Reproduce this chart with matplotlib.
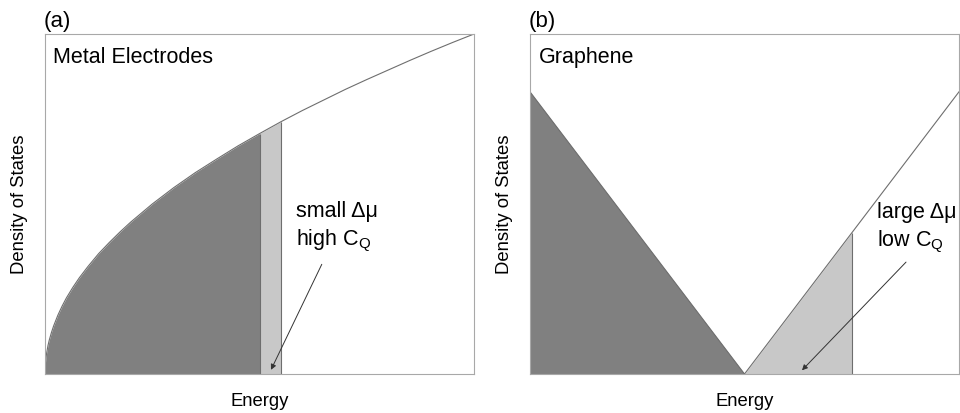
import numpy as np
import matplotlib
matplotlib.use('Agg')
import matplotlib.pyplot as plt

plt.rcParams['font.family'] = ['Liberation Sans', 'DejaVu Sans']
plt.rcParams['mathtext.fontset'] = 'custom'
plt.rcParams['mathtext.rm'] = 'Liberation Sans'
plt.rcParams['mathtext.it'] = 'Liberation Sans'

# metal: density of states vs energy
metal_energy = [0, 0.0005, 0.001, 0.002, 0.004, 0.007, 0.01, 0.015, 0.02, 0.03, 0.04, 0.05,
                0.065, 0.08, 0.1, 0.125, 0.15, 0.175, 0.2, 0.25, 0.3, 0.35, 0.4, 0.45,
                0.5, 0.55, 0.6, 0.65, 0.7, 0.75, 0.8, 0.85, 0.9, 0.95, 1.0]
metal_dos = [0, 0.022, 0.032, 0.045, 0.063, 0.084, 0.1, 0.122, 0.141, 0.173, 0.2, 0.224,
             0.255, 0.283, 0.316, 0.354, 0.387, 0.418, 0.447, 0.5, 0.548, 0.592, 0.632, 0.671,
             0.707, 0.742, 0.775, 0.806, 0.837, 0.866, 0.894, 0.922, 0.949, 0.975, 1.0]
metal_fermi = 0.5
metal_shift = 0.55

# graphene: V shaped DOS
gr_energy = [-1, 0, 0.5, 1]
gr_dos = [0.83, 0, 0.415, 0.83]
gr_fermi = 0.0
gr_shift = 0.5

dark = '#808080'
light = '#c8c8c8'
edge = '#6e6e6e'
spine = '#a8a8a8'

fig = plt.figure(figsize=(9.6, 4.13), dpi=100)
axa = fig.add_axes([45/960, 39/413, 429/960, 340/413])
axb = fig.add_axes([530/960, 39/413, 429/960, 340/413])

# ---- panel (a)
e = np.array(metal_energy)
d = np.array(metal_dos)
axa.fill_between(e, 0, d, where=e <= metal_fermi, color=dark, lw=0)
axa.fill_between(e, 0, d, where=(e >= metal_fermi) & (e <= metal_shift), color=light, lw=0)
axa.plot(e, d, color=edge, lw=0.8)
axa.vlines([metal_fermi, metal_shift], 0, np.interp([metal_fermi, metal_shift], e, d), color=edge, lw=0.8)
axa.set_xlim(0, 1)
axa.set_ylim(0, 1)
axa.text(0.018, 0.93, 'Metal Electrodes', fontsize=15.5, va='center')
axa.text(0.585, 0.479, 'small \u0394\u03bc', fontsize=15.5, va='center')
axa.text(0.585, 0.39, r'high C$_\mathrm{Q}$', fontsize=15.5, va='center')
axa.annotate('', xy=(0.524, 0.005), xytext=(0.648, 0.33),
             arrowprops=dict(arrowstyle='-|>', color='#333333', lw=0.7, mutation_scale=8))
axa.set_xlabel('Energy', fontsize=13.3, labelpad=14)
axa.set_ylabel('Density of States', fontsize=13.3, labelpad=12)
fig.text(44/960, 1 - 22/413, '(a)', fontsize=16, va='center')

# ---- panel (b)
e = np.array(gr_energy)
d = np.array(gr_dos)
axb.fill_between(e, 0, d, where=e <= gr_fermi, color=dark, lw=0)
axb.fill_between(e, 0, d, where=(e >= gr_fermi) & (e <= gr_shift), color=light, lw=0)
axb.plot(e, d, color=edge, lw=0.8)
axb.vlines([gr_shift], 0, np.interp([gr_shift], e, d), color=edge, lw=0.8)
axb.set_xlim(-1, 1)
axb.set_ylim(0, 1)
axb.text(-0.958, 0.93, 'Graphene', fontsize=15.5, va='center')
axb.text(0.62, 0.476, 'large \u0394\u03bc', fontsize=15.5, va='center')
axb.text(0.62, 0.387, r'low C$_\mathrm{Q}$', fontsize=15.5, va='center')
axb.annotate('', xy=(0.259, 0.005), xytext=(0.762, 0.335),
             arrowprops=dict(arrowstyle='-|>', color='#333333', lw=0.7, mutation_scale=8))
axb.set_xlabel('Energy', fontsize=13.3, labelpad=14)
axb.set_ylabel('Density of States', fontsize=13.3, labelpad=12)
fig.text(529/960, 1 - 22/413, '(b)', fontsize=16, va='center')

for ax in (axa, axb):
    ax.set_xticks([])
    ax.set_yticks([])
    for s in ax.spines.values():
        s.set_color(spine)
        s.set_linewidth(0.8)

fig.savefig('out.png', dpi=100)
